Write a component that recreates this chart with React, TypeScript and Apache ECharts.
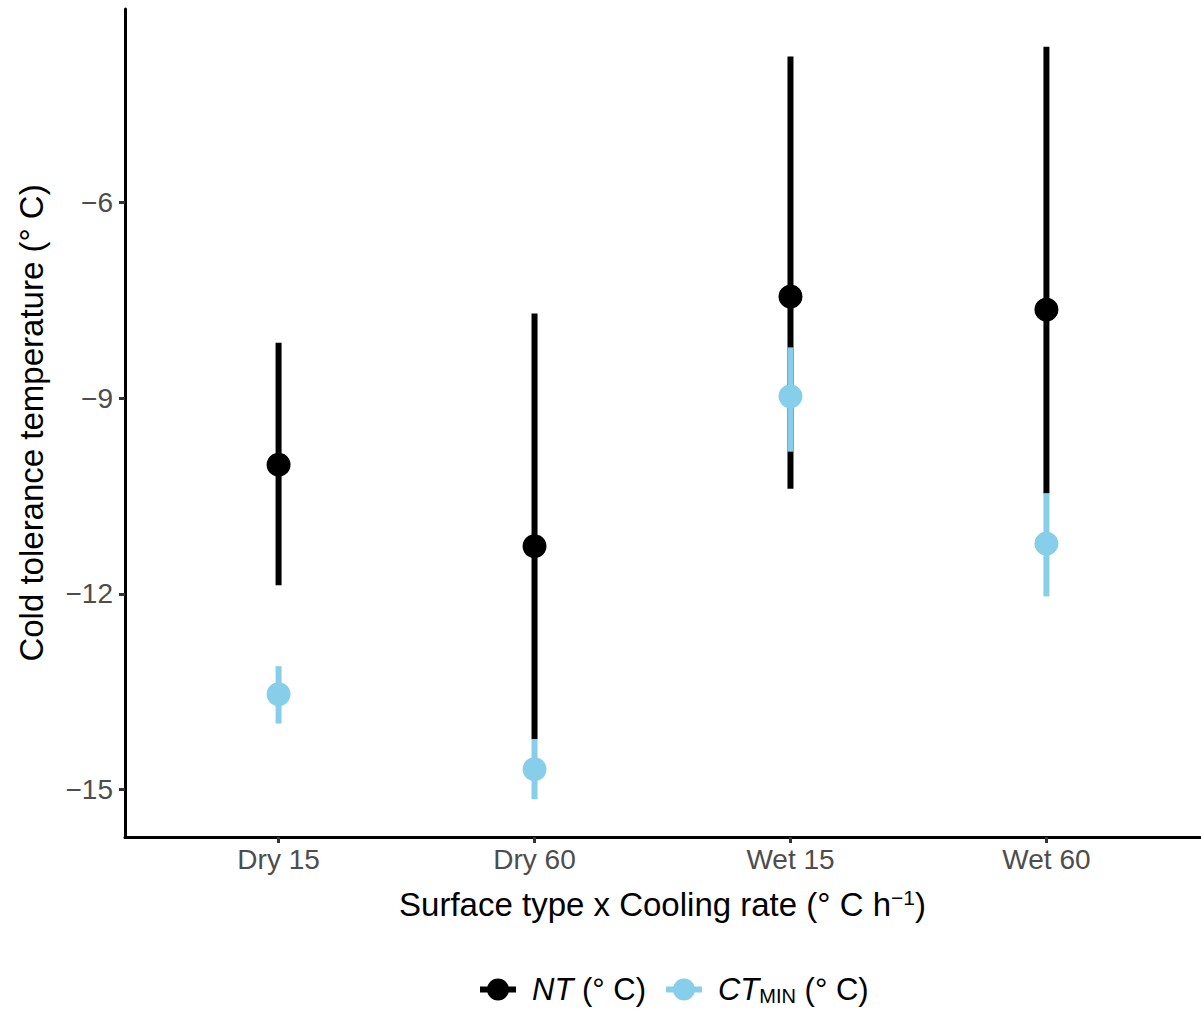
import React, { useEffect, useRef } from "react";
import * as echarts from "echarts";

const categories = ["Dry 15", "Dry 60", "Wet 15", "Wet 60"];
const xPositions = [1, 2, 3, 4];
const yTicks = [-15, -12, -9, -6];

const ntMean = [-10.02, -11.27, -7.44, -7.64];
const ntLow = [-11.87, -14.23, -10.39, -10.46];
const ntHigh = [-8.15, -7.7, -3.76, -3.61];

const ctMean = [-13.54, -14.69, -8.97, -11.23];
const ctLow = [-13.99, -15.15, -9.82, -12.04];
const ctHigh = [-13.11, -14.23, -8.22, -10.46];

const NT_COLOR = "#000000";
const CT_COLOR = "#87CEEB";
const FONT = "Liberation Sans, Arial, sans-serif";

const legendIcon =
  "path://M0,8 L36,8 L36,14 L0,14 Z M7,11 A11,11 0 1,1 29,11 A11,11 0 1,1 7,11 Z";

function errorSeries(name: string, color: string, lo: number[], hi: number[]) {
  return {
    name,
    type: "custom",
    itemStyle: { color },
    data: xPositions.map((x, i) => [x, lo[i], hi[i]]),
    encode: { x: 0, y: [1, 2] },
    renderItem: (params: any, api: any) => {
      const x = api.value(0);
      const p1 = api.coord([x, api.value(1)]);
      const p2 = api.coord([x, api.value(2)]);
      return {
        type: "line",
        shape: { x1: p1[0], y1: p1[1], x2: p2[0], y2: p2[1] },
        style: { stroke: color, lineWidth: 6, lineCap: "butt" },
      };
    },
  };
}

function pointSeries(name: string, color: string, mean: number[]) {
  return {
    name,
    type: "scatter",
    symbol: "circle",
    symbolSize: 24,
    itemStyle: { color, opacity: 1 },
    data: xPositions.map((x, i) => [x, mean[i]]),
  };
}

export default function App() {
  const ref = useRef<HTMLDivElement>(null);
  useEffect(() => {
    document.body.style.margin = "0";
    if (!ref.current) return;
    const chart = echarts.init(ref.current, null, { renderer: "svg" });
    chart.setOption({
      animation: false,
      backgroundColor: "#ffffff",
      textStyle: { fontFamily: FONT },
      grid: { left: 125, right: 1, top: 9, bottom: 173, containLabel: false },
      legend: {
        left: 475,
        top: 969,
        itemWidth: 36,
        itemHeight: 22,
        itemGap: 20,
        data: [
          { name: "NT", icon: legendIcon, itemStyle: { color: NT_COLOR } },
          { name: "CT", icon: legendIcon, itemStyle: { color: CT_COLOR } },
        ],
        formatter: (name: string) =>
          name === "NT" ? "{i|NT}{n| (° C)}" : "{i|CT}{s|MIN}{n| (° C)}",
        textStyle: {
          color: "#000",
          fontFamily: FONT,
          fontSize: 31,
          rich: {
            i: { fontStyle: "italic", fontSize: 31, color: "#000", fontFamily: FONT, padding: [0, 0, 0, 11] },
            n: { fontSize: 31, color: "#000", fontFamily: FONT },
            s: { fontSize: 20, color: "#000", fontFamily: FONT, verticalAlign: "bottom", padding: [12, 0, 0, 0] },
          },
        },
      },
      xAxis: {
        type: "value",
        min: 0.4,
        max: 4.6,
        name: "Surface type x Cooling rate (° C h{sup|−1})",
        nameLocation: "middle",
        nameGap: 50,
        nameTextStyle: {
          color: "#000",
          fontSize: 33,
          fontFamily: FONT,
          rich: {
            sup: { fontSize: 21, color: "#000", fontFamily: FONT, verticalAlign: "top", padding: [0, 0, 14, 0] },
          },
        },
        splitLine: { show: false },
        axisLine: { show: true, onZero: false, lineStyle: { color: "#000", width: 3 } },
        axisTick: {
          show: true,
          customValues: xPositions,
          length: 6,
          lineStyle: { color: "#333", width: 3 },
        },
        axisLabel: {
          customValues: xPositions,
          formatter: (v: number) => categories[Math.round(v) - 1] ?? "",
          color: "#4d4d4d",
          fontSize: 28,
          fontFamily: FONT,
          margin: 8,
        },
      },
      yAxis: {
        type: "value",
        min: -15.73,
        max: -3.03,
        name: "Cold tolerance temperature (° C)",
        nameLocation: "middle",
        nameGap: 77,
        nameTextStyle: { color: "#000", fontSize: 33, fontFamily: FONT },
        splitLine: { show: false },
        axisLine: { show: true, onZero: false, lineStyle: { color: "#000", width: 3 } },
        axisTick: {
          show: true,
          customValues: yTicks,
          length: 6,
          lineStyle: { color: "#333", width: 3 },
        },
        axisLabel: {
          customValues: yTicks,
          formatter: (v: number) => String(v).replace("-", "−"),
          color: "#4d4d4d",
          fontSize: 28,
          fontFamily: FONT,
          margin: 12,
        },
      },
      series: [
        errorSeries("NT", NT_COLOR, ntLow, ntHigh),
        pointSeries("NT", NT_COLOR, ntMean),
        errorSeries("CT", CT_COLOR, ctLow, ctHigh),
        pointSeries("CT", CT_COLOR, ctMean),
      ],
    });
    return () => chart.dispose();
  }, []);
  return <div ref={ref} style={{ width: 1201, height: 1010 }} />;
}
